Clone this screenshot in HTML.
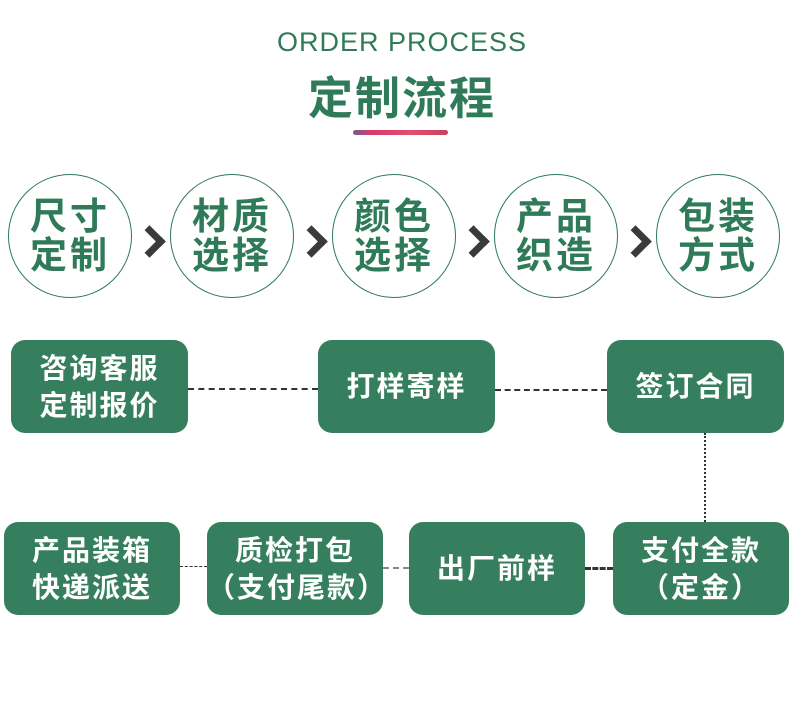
<!DOCTYPE html>
<html><head><meta charset="utf-8"><style>
body{margin:0;width:790px;height:716px;background:#fff;position:relative;overflow:hidden;font-family:"Liberation Sans","Noto Sans CJK SC",sans-serif}
.a{position:absolute}
.t1{left:0;width:804px;top:27px;text-align:center;color:#2f7a58;font-size:27px;letter-spacing:1px}
.t2{left:0;width:804px;top:62px;text-align:center;color:#2f7a58;font-size:45px;font-weight:bold;letter-spacing:2px}
.bar{left:353px;top:130px;width:95px;height:5px;border-radius:3px;background:linear-gradient(90deg,#7a5a8a,#d83a6a 20%,#e0506e 60%,#c84060)}
.c{width:124px;height:124px;border:1.5px solid #2f7a58;border-radius:50%;top:174px;box-sizing:border-box;color:#2f7a58;font-size:37px;line-height:39px;text-align:center;display:flex;align-items:center;justify-content:center;letter-spacing:3px;font-weight:bold}
.ar{top:230px;width:16px;height:16px;border-top:7px solid #3a3a3a;border-right:7px solid #3a3a3a;transform:rotate(45deg)}
.b{background:#367f5e;border-radius:14px;color:#fff;font-size:28px;line-height:37px;text-align:center;display:flex;align-items:center;justify-content:center;letter-spacing:2px;width:177px;height:93px;font-weight:bold}
.h{border-top:2px dashed #333;height:0}
</style></head><body>
<div class="a t1">ORDER PROCESS</div>
<div class="a t2">定制流程</div>
<div class="a bar"></div>
<div class="a c" style="left:8px">尺寸<br>定制</div>
<div class="a c" style="left:170px">材质<br>选择</div>
<div class="a c" style="left:332px">颜色<br>选择</div>
<div class="a c" style="left:494px">产品<br>织造</div>
<div class="a c" style="left:656px">包装<br>方式</div>
<div class="a ar" style="left:138px"></div>
<div class="a ar" style="left:300px"></div>
<div class="a ar" style="left:462px"></div>
<div class="a ar" style="left:624px"></div>
<div class="a h" style="left:188px;width:130px;top:388px"></div>
<div class="a h" style="left:495px;width:112px;top:389px"></div>
<div class="a" style="left:704px;top:433px;height:89px;border-left:2px dotted #333"></div>
<div class="a h" style="left:180px;width:27px;top:566px;border-top-width:1px"></div>
<div class="a h" style="left:383px;width:26px;top:567px;border-top-color:#888"></div>
<div class="a h" style="left:585px;width:28px;top:567px;border-top-width:3px"></div>
<div class="a b" style="left:11px;top:340px">咨询客服<br>定制报价</div>
<div class="a b" style="left:318px;top:340px">打样寄样</div>
<div class="a b" style="left:607px;top:340px">签订合同</div>
<div class="a b" style="left:4px;top:522px;width:176px">产品装箱<br>快递派送</div>
<div class="a b" style="left:207px;top:522px;width:176px">质检打包<br>（支付尾款）</div>
<div class="a b" style="left:409px;top:522px;width:176px">出厂前样</div>
<div class="a b" style="left:613px;top:522px;width:176px">支付全款<br>（定金）</div>
</body></html>
